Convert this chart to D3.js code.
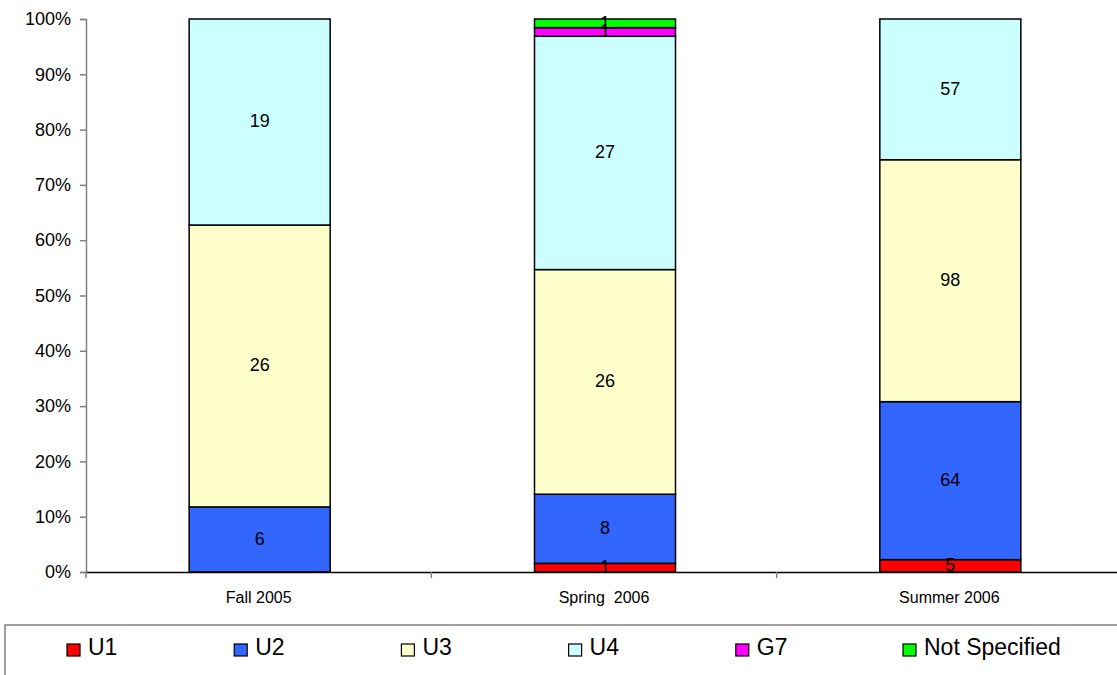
<!DOCTYPE html>
<html>
<head>
<meta charset="utf-8">
<script src="https://cdn.jsdelivr.net/npm/d3@7"></script>
<style>
body { margin: 0; background: #fff; }
svg { font-family: "Liberation Sans", Arial, sans-serif; }
</style>
</head>
<body>
<svg width="1117" height="675"></svg>
<script>
var terms = ["Fall 2005", "Spring  2006", "Summer 2006"];
var groups = ["U1", "U2", "U3", "U4", "G7", "Not Specified"];
var colors = ["#ff0000", "#3366ff", "#ffffcc", "#ccffff", "#ff00ff", "#00ff00"];
var u1 = [0, 1, 5];
var u2 = [6, 8, 64];
var u3 = [26, 26, 98];
var u4 = [19, 27, 57];
var g7 = [0, 1, 0];
var notSpec = [0, 1, 0];
var yTicks = [0, 0.1, 0.2, 0.3, 0.4, 0.5, 0.6, 0.7, 0.8, 0.9, 1];

var series = [u1, u2, u3, u4, g7, notSpec];
var rows = terms.map(function(t, i) {
  var r = { term: t };
  groups.forEach(function(g, j) { r[g] = series[j][i]; });
  return r;
});

var svg = d3.select("svg");
var plotLeft = 86, plotRight = 1122, plotTop = 19, plotBottom = 572;

var x = d3.scaleBand().domain(terms).range([plotLeft, plotRight]).paddingInner(0).paddingOuter(0);
var y = d3.scaleLinear().domain([0, 1]).range([plotBottom, plotTop]);

var stack = d3.stack().keys(groups).offset(d3.stackOffsetExpand);
var layers = stack(rows);

var barW = 141;

var layer = svg.append("g").selectAll("g")
  .data(layers)
  .enter().append("g")
  .attr("fill", function(d, i) { return colors[i]; });

layer.selectAll("rect")
  .data(function(d) { return d.filter(function(p) { return p[1] - p[0] > 0; }); })
  .enter().append("rect")
  .attr("x", function(d) { return x(d.data.term) + x.bandwidth() / 2 - barW / 2 + 1; })
  .attr("width", barW)
  .attr("y", function(d) { return y(d[1]); })
  .attr("height", function(d) { return y(d[0]) - y(d[1]); })
  .attr("stroke", "#000")
  .attr("stroke-width", 1.5);

// value labels
layers.forEach(function(l) {
  l.forEach(function(p) {
    var v = p.data[l.key];
    if (!v) return;
    svg.append("text")
      .attr("x", x(p.data.term) + x.bandwidth() / 2 + 1)
      .attr("y", y((p[0] + p[1]) / 2) - 1)
      .attr("dy", "0.36em")
      .attr("text-anchor", "middle")
      .attr("font-size", 18)
      .attr("fill", "#000")
      .text(v);
  });
});

// y axis
var yAxis = svg.append("g")
  .attr("transform", "translate(" + plotLeft + ",0)")
  .call(d3.axisLeft(y).tickValues(yTicks).tickFormat(d3.format(".0%")).tickSize(6).tickPadding(9));
yAxis.select(".domain").attr("stroke", "#808080").attr("stroke-width", 1.5);
yAxis.selectAll(".tick line").attr("stroke", "#808080").attr("stroke-width", 1.5);
yAxis.selectAll("text").attr("font-size", 18).attr("fill", "#000")
  .attr("font-family", "Liberation Sans, Arial, sans-serif");

// x axis
var xAxis = svg.append("g")
  .attr("transform", "translate(0," + plotBottom + ")")
  .call(d3.axisBottom(x).tickSize(0).tickPadding(20));
xAxis.select(".domain").attr("stroke", "#000").attr("stroke-width", 1.5);
xAxis.selectAll("text").attr("font-size", 16).attr("fill", "#000")
  .attr("font-family", "Liberation Sans, Arial, sans-serif")
  .style("white-space", "pre");
// category separators
svg.append("g").selectAll("line")
  .data(terms)
  .enter().append("line")
  .attr("x1", function(d) { return x(d); })
  .attr("x2", function(d) { return x(d); })
  .attr("y1", plotBottom)
  .attr("y2", plotBottom + 6)
  .attr("stroke", "#808080")
  .attr("stroke-width", 1.5);

// legend
svg.append("rect")
  .attr("x", 5).attr("y", 625)
  .attr("width", 1130).attr("height", 70)
  .attr("fill", "#fff")
  .attr("stroke", "#808080")
  .attr("stroke-width", 1.5);

var legX = d3.scalePoint().domain(groups).range([67, 903]);
var leg = svg.append("g").selectAll("g")
  .data(groups)
  .enter().append("g")
  .attr("transform", function(d) { return "translate(" + legX(d) + ",644)"; });
leg.append("rect")
  .attr("width", 13).attr("height", 12)
  .attr("fill", function(d, i) { return colors[i]; })
  .attr("stroke", "#000")
  .attr("stroke-width", 1.2);
leg.append("text")
  .attr("x", 21).attr("y", 3)
  .attr("dy", "0.36em")
  .attr("font-size", 23)
  .attr("fill", "#000")
  .text(function(d) { return d; });
</script>
</body>
</html>
